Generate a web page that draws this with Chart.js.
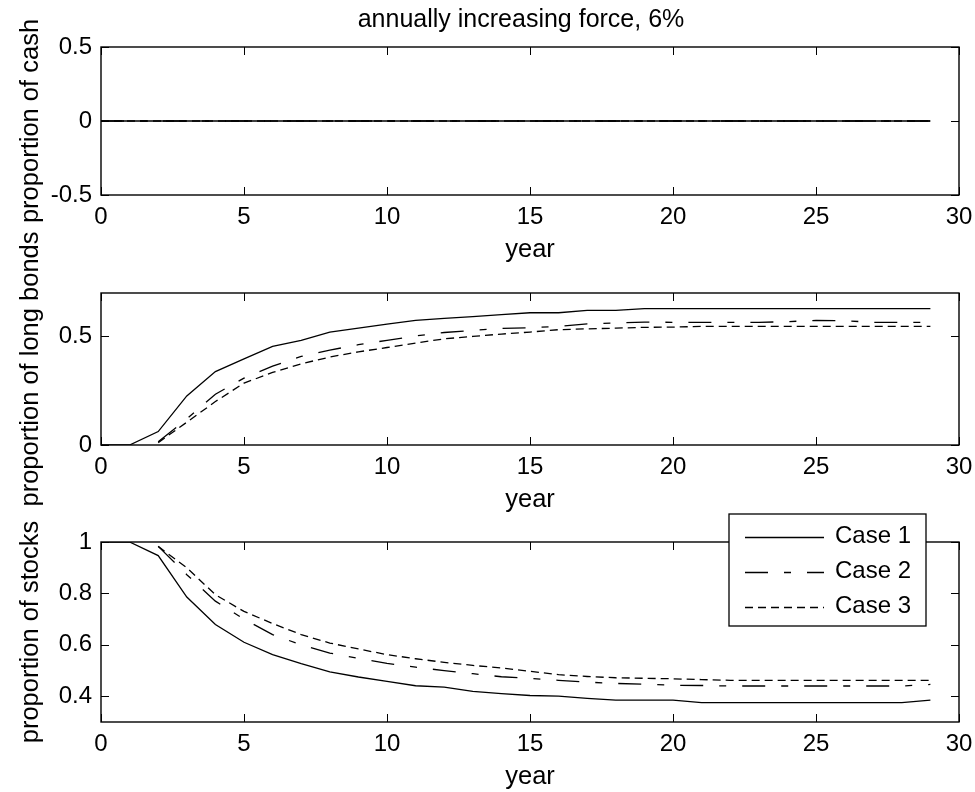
<!DOCTYPE html>
<html>
<head>
<meta charset="utf-8">
<script src="https://cdn.jsdelivr.net/npm/chart.js@4.4.1/dist/chart.umd.min.js"></script>
<style>
  html, body { margin: 0; padding: 0; background: #fff; }
  #wrap { position: relative; width: 975px; height: 792px; overflow: hidden; }
  canvas { position: absolute; left: 0; }
</style>
</head>
<body>
<div id="wrap">
  <canvas id="cashChart" width="975" height="265" style="top:0px"></canvas>
  <canvas id="bondChart" width="975" height="290" style="top:225px"></canvas>
  <canvas id="stockChart" width="975" height="292" style="top:500px"></canvas>
</div>
<script>
// ---- data ----
const years = [0, 1, 2, 3, 4, 5, 6, 7, 8, 9, 10, 11, 12, 13, 14, 15, 16, 17, 18, 19, 20, 21, 22, 23, 24, 25, 26, 27, 28, 29];
const xTicks = [0, 5, 10, 15, 20, 25, 30];
const caseLabels = ['Case 1', 'Case 2', 'Case 3'];

const cashCase1 = [0, 0, 0, 0, 0, 0, 0, 0, 0, 0, 0, 0, 0, 0, 0, 0, 0, 0, 0, 0, 0, 0, 0, 0, 0, 0, 0, 0, 0, 0];
const cashCase2 = [0, 0, 0, 0, 0, 0, 0, 0, 0, 0, 0, 0, 0, 0, 0, 0, 0, 0, 0, 0, 0, 0, 0, 0, 0, 0, 0, 0, 0, 0];
const cashCase3 = [0, 0, 0, 0, 0, 0, 0, 0, 0, 0, 0, 0, 0, 0, 0, 0, 0, 0, 0, 0, 0, 0, 0, 0, 0, 0, 0, 0, 0, 0];
const cashTicks = [-0.5, 0, 0.5];

const bondCase1 = [0, 0, 0.062, 0.226, 0.338, 0.397, 0.454, 0.482, 0.52, 0.538, 0.557, 0.574, 0.583, 0.591, 0.6,
  0.609, 0.609, 0.62, 0.62, 0.628, 0.628, 0.628, 0.628, 0.628, 0.628, 0.628, 0.628, 0.628, 0.628, 0.628];
const bondCase2 = [null, null, 0.015, 0.12, 0.234, 0.308, 0.363, 0.408, 0.437, 0.462, 0.482, 0.502, 0.518, 0.528, 0.537,
  0.54, 0.546, 0.558, 0.562, 0.566, 0.565, 0.565, 0.565, 0.565, 0.568, 0.574, 0.572, 0.565, 0.565, 0.565];
const bondCase3 = [null, null, 0.011, 0.105, 0.2, 0.285, 0.334, 0.374, 0.405, 0.429, 0.449, 0.469, 0.489, 0.5, 0.511,
  0.52, 0.531, 0.535, 0.538, 0.542, 0.543, 0.546, 0.546, 0.546, 0.546, 0.546, 0.546, 0.546, 0.546, 0.546];
const bondTicks = [0, 0.5];

const stockCase1 = [1, 1, 0.947, 0.786, 0.679, 0.61, 0.562, 0.527, 0.495, 0.475, 0.458, 0.441, 0.436, 0.419, 0.41,
  0.403, 0.401, 0.392, 0.385, 0.385, 0.385, 0.375, 0.375, 0.375, 0.375, 0.375, 0.375, 0.375, 0.375, 0.385];
const stockCase2 = [null, null, 0.983, 0.873, 0.77, 0.7, 0.64, 0.6, 0.568, 0.547, 0.528, 0.513, 0.5, 0.488, 0.476,
  0.47, 0.462, 0.455, 0.45, 0.447, 0.443, 0.442, 0.44, 0.44, 0.44, 0.44, 0.44, 0.44, 0.44, 0.446];
const stockCase3 = [null, null, 0.983, 0.9, 0.795, 0.73, 0.683, 0.64, 0.607, 0.584, 0.562, 0.546, 0.532, 0.52, 0.51,
  0.497, 0.484, 0.477, 0.472, 0.47, 0.468, 0.465, 0.462, 0.462, 0.462, 0.462, 0.462, 0.462, 0.462, 0.462];
const stockTicks = [0.4, 0.6, 0.8, 1];

const dashStyles = [[], [23, 16, 7, 16], [8, 5]];

const FONT = '"Liberation Sans", Arial, sans-serif';
Chart.defaults.font.family = FONT;
Chart.defaults.font.size = 24;
Chart.defaults.color = '#000';

// matlab-like box with inward tick marks on all four sides
const boxTicks = {
    id: 'boxTicks',
    afterDatasetsDraw(chart) {
        const { ctx, chartArea: a, scales } = chart;
        ctx.save();
        ctx.strokeStyle = '#000';
        ctx.lineWidth = 1;
        ctx.beginPath();
        scales.x.ticks.forEach(t => {
            const px = Math.round(scales.x.getPixelForValue(t.value)) + 0.5;
            ctx.moveTo(px, a.bottom); ctx.lineTo(px, a.bottom - 8);
            ctx.moveTo(px, a.top); ctx.lineTo(px, a.top + 8);
        });
        scales.y.ticks.forEach(t => {
            const py = Math.round(scales.y.getPixelForValue(t.value)) + 0.5;
            ctx.moveTo(a.left, py); ctx.lineTo(a.left + 8, py);
            ctx.moveTo(a.right, py); ctx.lineTo(a.right - 8, py);
        });
        ctx.stroke();
        ctx.lineWidth = 1.4;
        ctx.strokeRect(a.left, a.top, a.right - a.left, a.bottom - a.top);
        ctx.restore();
    }
};

class PanelChart {
    constructor(canvasId, yLabel, yMin, yMax, yTicks, series, topPad) {
        this.ctx = document.getElementById(canvasId);
        this.yLabel = yLabel;
        this.yMin = yMin;
        this.yMax = yMax;
        this.yTicks = yTicks;
        this.series = series;
        this.topPad = topPad;
        this.extraPlugins = [];
    }

    buildDatasets() {
        return this.series.map((vals, i) => ({
            label: caseLabels[i],
            data: years.map((yr, j) => ({ x: yr, y: vals[j] })),
            borderColor: '#000',
            borderWidth: 1.3,
            borderDash: dashStyles[i],
            pointRadius: 0,
            fill: false,
            tension: 0,
            spanGaps: false
        }));
    }

    create() {
        const yTicks = this.yTicks;
        new Chart(this.ctx, {
            type: 'line',
            data: { datasets: this.buildDatasets() },
            options: {
                responsive: false,
                animation: false,
                events: [],
                layout: { padding: { left: 0, right: 16, top: this.topPad, bottom: 0 } },
                plugins: { legend: { display: false }, tooltip: { enabled: false } },
                scales: {
                    x: {
                        type: 'linear',
                        min: 0,
                        max: 30,
                        grid: { display: false, drawTicks: false },
                        border: { display: false },
                        afterBuildTicks: s => { s.ticks = xTicks.map(v => ({ value: v })); },
                        afterFit: s => { s.height = 70; s.paddingLeft = 0; s.paddingRight = 0; },
                        ticks: { padding: 8, maxRotation: 0, autoSkip: false, callback: v => String(v) },
                        title: { display: true, text: 'year', font: { size: 25.5 }, padding: { top: 0, bottom: 0 } }
                    },
                    y: {
                        min: this.yMin,
                        max: this.yMax,
                        grid: { display: false, drawTicks: false },
                        border: { display: false },
                        afterBuildTicks: s => { s.ticks = yTicks.map(v => ({ value: v })); },
                        afterFit: s => { s.width = 101; },
                        ticks: { padding: 9, autoSkip: false, callback: v => String(v) },
                        title: { display: true, text: this.yLabel, font: { size: 25.5 }, padding: { top: 16, bottom: 0 } }
                    }
                }
            },
            plugins: [boxTicks].concat(this.extraPlugins)
        });
    }
}

const titlePlugin = {
    id: 'topTitle',
    afterDraw(chart) {
        const { ctx, chartArea: a } = chart;
        ctx.save();
        ctx.fillStyle = '#000';
        ctx.font = '25px ' + FONT;
        ctx.textAlign = 'center';
        ctx.textBaseline = 'middle';
        ctx.fillText('annually increasing force, 6%', (a.left + a.right) / 2 - 9, a.top - 27);
        ctx.restore();
    }
};

// boxed legend overlapping the top edge of the stocks panel
const legendPlugin = {
    id: 'boxLegend',
    afterDraw(chart) {
        const { ctx, chartArea: a } = chart;
        const left = a.right - 230, right = a.right - 33, top = a.top - 28, bottom = a.top + 84;
        ctx.save();
        ctx.fillStyle = '#fff';
        ctx.fillRect(left, top, right - left, bottom - top);
        ctx.strokeStyle = '#000';
        ctx.lineWidth = 1.3;
        ctx.strokeRect(left, top, right - left, bottom - top);
        chart.data.datasets.forEach((ds, i) => {
            const y = top + 22.5 + i * 35;
            ctx.beginPath();
            ctx.setLineDash(ds.borderDash);
            ctx.lineWidth = ds.borderWidth;
            ctx.strokeStyle = ds.borderColor;
            ctx.moveTo(left + 16, Math.round(y) + 0.5);
            ctx.lineTo(left + 95, Math.round(y) + 0.5);
            ctx.stroke();
            ctx.setLineDash([]);
            ctx.fillStyle = '#000';
            ctx.font = '24px ' + FONT;
            ctx.textAlign = 'left';
            ctx.textBaseline = 'middle';
            ctx.fillText(ds.label, left + 106, y);
        });
        ctx.restore();
    }
};

const cash = new PanelChart('cashChart', 'proportion of cash', -0.5, 0.5, cashTicks,
    [cashCase1, cashCase2, cashCase3], 47);
cash.extraPlugins.push(titlePlugin);
cash.create();

const bonds = new PanelChart('bondChart', 'proportion of long bonds', 0, 0.7, bondTicks,
    [bondCase1, bondCase2, bondCase3], 68);
bonds.create();

const stocks = new PanelChart('stockChart', 'proportion of stocks', 0.3, 1, stockTicks,
    [stockCase1, stockCase2, stockCase3], 42);
stocks.extraPlugins.push(legendPlugin);
stocks.create();
</script>
</body>
</html>
